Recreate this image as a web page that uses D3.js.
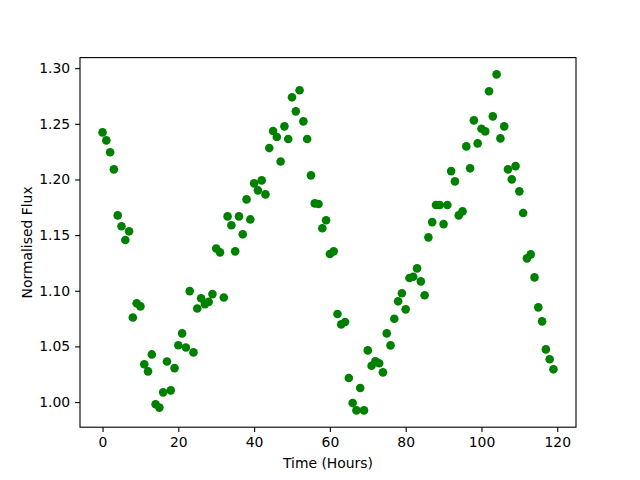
<!DOCTYPE html>
<html>
<head>
<meta charset="utf-8">
<script src="https://cdn.jsdelivr.net/npm/d3@7"></script>
<style>
  body { margin: 0; background: #fff; }
  text { font-family: "DejaVu Sans", sans-serif; }
</style>
</head>
<body>
<div id="chart"></div>
<script>
// time in hours, one reading per hour
const hours = d3.range(0, 120);
const flux = [
  1.2423, 1.2351, 1.2244, 1.2091, 1.1677, 1.1579, 1.1456, 1.1534, 1.0760, 1.0887,
  1.0860, 1.0339, 1.0276, 1.0428, 0.9980, 0.9950, 1.0087, 1.0365, 1.0105, 1.0305,
  1.0510, 1.0617, 1.0490, 1.0997, 1.0446, 1.0840, 1.0932, 1.0880, 1.0900, 1.0970,
  1.1380, 1.1345, 1.0940, 1.1668, 1.1588, 1.1354, 1.1668, 1.1507, 1.1821, 1.1641,
  1.1965, 1.1902, 1.1992, 1.1866, 1.2282, 1.2435, 1.2381, 1.2162, 1.2477, 1.2363,
  1.2738, 1.2612, 1.2801, 1.2522, 1.2363, 1.2037, 1.1785, 1.1779, 1.1561, 1.1633,
  1.1330, 1.1354, 1.0791, 1.0698, 1.0719, 1.0216, 0.9991, 0.9925, 1.0126, 0.9925,
  1.0464, 1.0326, 1.0366, 1.0348, 1.0267, 1.0617, 1.0509, 1.0749, 1.0905, 1.0977,
  1.0833, 1.1114, 1.1126, 1.1201, 1.1084, 1.0959, 1.1480, 1.1617, 1.1770, 1.1770,
  1.1599, 1.1770, 1.2075, 1.1983, 1.1677, 1.1713, 1.2297, 1.2100, 1.2531, 1.2324,
  1.2456, 1.2432, 1.2792, 1.2567, 1.2944, 1.2369, 1.2477, 1.2091, 1.2001, 1.2120,
  1.1893, 1.1698, 1.1291, 1.1327, 1.1120, 1.0851, 1.0725, 1.0473, 1.0384, 1.0294
];
const xTicks = [0, 20, 40, 60, 80, 100, 120];
const yTicks = [1.00, 1.05, 1.10, 1.15, 1.20, 1.25, 1.30];

const W = 640, H = 480;
// matplotlib default axes box
const axL = 80, axR = 576, axT = 57.6, axB = 427.2;

const pts = hours.map((h, i) => ({ x: h, y: flux[i] }));

// 5% padding like the autoscale
function padded(ext) {
  const m = (ext[1] - ext[0]) * 0.05;
  return [ext[0] - m, ext[1] + m];
}

const x = d3.scaleLinear().domain(padded(d3.extent(hours))).range([axL, axR]);
const y = d3.scaleLinear().domain(padded(d3.extent(flux))).range([axB, axT]);

const svg = d3.select("#chart").append("svg")
  .attr("width", W)
  .attr("height", H)
  .style("background", "#fff");

const xAxis = svg.append("g")
  .attr("transform", "translate(0," + axB + ")")
  .call(d3.axisBottom(x).tickValues(xTicks).tickFormat(d3.format("d")).tickSize(4.9).tickPadding(4.9));

const yAxis = svg.append("g")
  .attr("transform", "translate(" + axL + ",0)")
  .call(d3.axisLeft(y).tickValues(yTicks).tickFormat(d3.format(".2f")).tickSize(4.9).tickPadding(4.9));

[xAxis, yAxis].forEach(g => {
  g.select(".domain").remove();
  g.selectAll("line").attr("stroke", "#000").attr("stroke-width", 1.1);
  g.selectAll("text").attr("font-size", "13.9px").attr("fill", "#000")
    .style("font-family", "'DejaVu Sans', sans-serif");
});

// frame
svg.append("rect")
  .attr("x", axL).attr("y", axT)
  .attr("width", axR - axL).attr("height", axB - axT)
  .attr("fill", "none").attr("stroke", "#000").attr("stroke-width", 1.1);

svg.append("g").selectAll("circle")
  .data(pts)
  .enter()
  .append("circle")
  .attr("cx", d => x(d.x))
  .attr("cy", d => y(d.y))
  .attr("r", 4.3)
  .attr("fill", "#008000");

svg.append("text")
  .attr("x", (axL + axR) / 2)
  .attr("y", 468)
  .attr("text-anchor", "middle")
  .attr("font-size", "13.9px")
  .text("Time (Hours)");

svg.append("text")
  .attr("transform", "translate(32," + (axT + axB) / 2 + ") rotate(-90)")
  .attr("text-anchor", "middle")
  .attr("font-size", "13.9px")
  .text("Normalised Flux");
</script>
</body>
</html>
